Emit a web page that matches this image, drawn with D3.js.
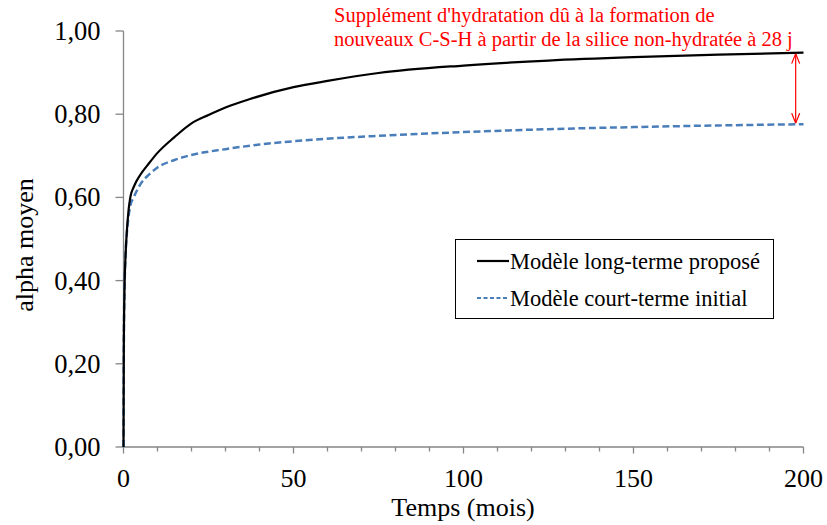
<!DOCTYPE html>
<html><head><meta charset="utf-8">
<script src="https://cdn.jsdelivr.net/npm/d3@7"></script>
<style>body{margin:0;background:#fff}svg{display:block}</style>
</head><body>
<svg id="c" width="827" height="525" font-family="'Liberation Serif', 'Times New Roman', Times, 'DejaVu Serif', serif"></svg>
<script>
const timeLong = [0,0.1,0.3,0.6,1,1.5,2,3,5,7.5,10,15,20,25,30,37,50,60,75,100,125,150,175,200];
const alphaLong = [0,0.25,0.38,0.46,0.52,0.57,0.60,0.625,0.655,0.682,0.707,0.745,0.778,0.798,0.816,0.836,0.865,0.880,0.899,0.917,0.929,0.937,0.943,0.948];
const timeShort = [0,0.1,0.3,0.6,1,1.5,2,3,5,7.5,10,15,20,30,40,50,75,100,125,150,175,200];
const alphaShort = [0,0.25,0.38,0.46,0.515,0.555,0.58,0.60,0.632,0.655,0.672,0.69,0.702,0.716,0.727,0.735,0.748,0.757,0.764,0.769,0.773,0.776];
const xTicks = [0,50,100,150,200];
const yTicks = [0,0.2,0.4,0.6,0.8,1.0];
const seriesNames = ["Modèle long-terme proposé","Modèle court-terme initial"];
const annotationLines = ["Supplément d'hydratation dû à la formation de","nouveaux C-S-H à partir de la silice non-hydratée à 28 j"];
const xTitle = "Temps (mois)", yTitle = "alpha moyen";

const svg = d3.select("#c");
const x = d3.scaleLinear().domain([0,200]).range([123.5,803.5]);
const y = d3.scaleLinear().domain([0,1]).range([447,31]);
const axisColor = "#868686";
const fmt = d => d3.format(".2f")(d).replace(".", ",");

// X axis
const gx = svg.append("g").attr("transform", `translate(0,${y(0)})`);
gx.append("line").attr("x1", x(0)).attr("x2", x(200)).attr("stroke", axisColor).attr("stroke-width",1.3);
d3.range(0,201,10).forEach(v => {
  gx.append("line").attr("x1", x(v)).attr("x2", x(v)).attr("y1",0).attr("y2", v%50===0?6.5:4.5).attr("stroke",axisColor).attr("stroke-width",1.3);
});
xTicks.forEach(v => gx.append("text").attr("x", x(v)).attr("y", 40).attr("text-anchor","middle").attr("font-size",26).attr("fill","#000").text(v));
svg.append("text").attr("x", 463).attr("y", 516).attr("text-anchor","middle").attr("font-size",26).text(xTitle);

// Y axis
const gy = svg.append("g");
gy.append("line").attr("x1", x(0)).attr("x2", x(0)).attr("y1", y(0)).attr("y2", y(1)).attr("stroke",axisColor).attr("stroke-width",1.3);
yTicks.forEach(v => {
  gy.append("line").attr("x1", x(0)-8).attr("x2", x(0)).attr("y1", y(v)).attr("y2", y(v)).attr("stroke",axisColor).attr("stroke-width",1.3);
  gy.append("text").attr("x", x(0)-23).attr("y", y(v)+9).attr("text-anchor","end").attr("font-size",26.5).text(fmt(v));
});
svg.append("text").attr("transform","translate(33,245) rotate(-90)").attr("text-anchor","middle").attr("font-size",26).text(yTitle);

// Lines
const line = d3.line().x(d => x(d[0])).y(d => y(d[1])).curve(d3.curveMonotoneX);
svg.append("path").datum(timeShort.map((t,i)=>[t,alphaShort[i]])).attr("d", line).attr("fill","none")
  .attr("stroke","#4a7ebb").attr("stroke-width",2.5).attr("stroke-dasharray","7,3.5");
svg.append("path").datum(timeLong.map((t,i)=>[t,alphaLong[i]])).attr("d", line).attr("fill","none")
  .attr("stroke","#000").attr("stroke-width",2.2);

// Arrow
const defs = svg.append("defs");
["s","e"].forEach(k => {
  defs.append("marker").attr("id","arr"+k).attr("viewBox","0 0 10 10").attr("refX",10).attr("refY",5)
    .attr("markerWidth",10).attr("markerHeight",10).attr("markerUnits","userSpaceOnUse").attr("orient","auto-start-reverse")
    .append("path").attr("d","M0,1 L10,5 L0,9").attr("fill","none").attr("stroke","#ff0000").attr("stroke-width",1.2);
});
svg.append("line").attr("x1", x(197.7)).attr("x2", x(197.7)).attr("y1", y(alphaLong[alphaLong.length-1])+1).attr("y2", y(alphaShort[alphaShort.length-1])-1)
  .attr("stroke","#ff0000").attr("stroke-width",1.2).attr("marker-start","url(#arrs)").attr("marker-end","url(#arre)");

// Annotation
annotationLines.forEach((t,i) => svg.append("text").attr("x",334).attr("y",22+i*24).attr("font-size",20.5).attr("fill","#ff0000").text(t));

// Legend
svg.append("rect").attr("x",455.5).attr("y",239.5).attr("width",318).attr("height",79).attr("fill","#fff").attr("stroke","#000").attr("stroke-width",1);
const leg = [{c:"#000",d:null,w:2.2},{c:"#4a7ebb",d:"4,2.5",w:2}];
leg.forEach((l,i) => {
  const yy = 261 + i*37;
  svg.append("line").attr("x1",477).attr("x2",509).attr("y1",yy).attr("y2",yy).attr("stroke",l.c).attr("stroke-width",l.w).attr("stroke-dasharray",l.d);
  svg.append("text").attr("x",510).attr("y",yy+7.5).attr("font-size",22.5).text(seriesNames[i]);
});
</script>
</body></html>
